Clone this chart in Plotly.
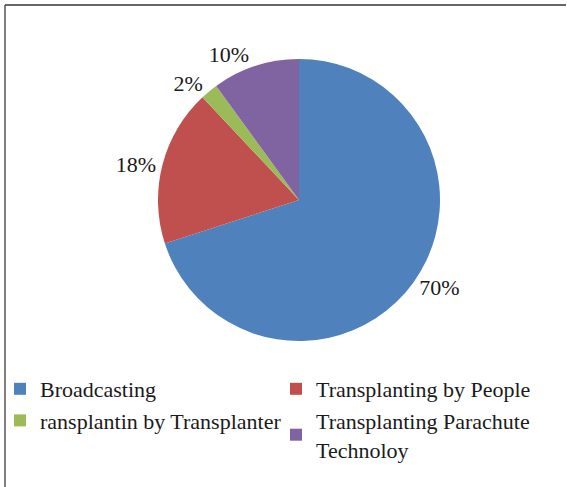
import plotly.graph_objects as go

labels = ["Broadcasting", "Transplanting by People", "ransplantin by Transplanter",
          "Transplanting Parachute<br>Technoloy"]
values = [70, 18, 2, 10]
colors = ["#4F81BD", "#C0504D", "#9BBB59", "#8064A2"]

W, H = 567, 487
cx, cy, r = 299, 200, 141

FONT = "Liberation Serif"

fig = go.Figure(go.Pie(
    labels=labels, values=values, sort=False, direction="clockwise", rotation=0,
    marker=dict(colors=colors, line=dict(width=0)),
    textinfo="percent", textposition="outside",
    texttemplate="%{percent:.0%}",
    textfont=dict(family=FONT, size=22, color="#1a1a1a"),
    domain=dict(x=[(cx - r) / W, (cx + r) / W], y=[1 - (cy + r) / H, 1 - (cy - r) / H]),
    showlegend=True,
))

fig.update_layout(
    width=W, height=H,
    margin=dict(l=0, r=0, t=0, b=0),
    paper_bgcolor="white",
    font=dict(family=FONT, size=22, color="#1a1a1a"),
    legend=dict(orientation="h", x=0.0, y=1 - 368 / H, xanchor="left", yanchor="top",
                entrywidth=231, entrywidthmode="pixels", traceorder="normal",
                bgcolor="rgba(0,0,0,0)",
                font=dict(family=FONT, size=22, color="#1a1a1a"),
                tracegroupgap=0),
    shapes=[
        dict(type="line", xref="paper", yref="paper", x0=5 / W, x1=566 / W, y0=1 - 5 / H, y1=1 - 5 / H,
             line=dict(color="#333", width=1.5)),
        dict(type="line", xref="paper", yref="paper", x0=5 / W, x1=5 / W, y0=1 - 5 / H, y1=0,
             line=dict(color="#555", width=1.5)),
    ],
)

fig.write_html("out.html", config={"displayModeBar": False},
               post_script="document.body.style.margin='0';document.body.style.overflow='hidden';")
